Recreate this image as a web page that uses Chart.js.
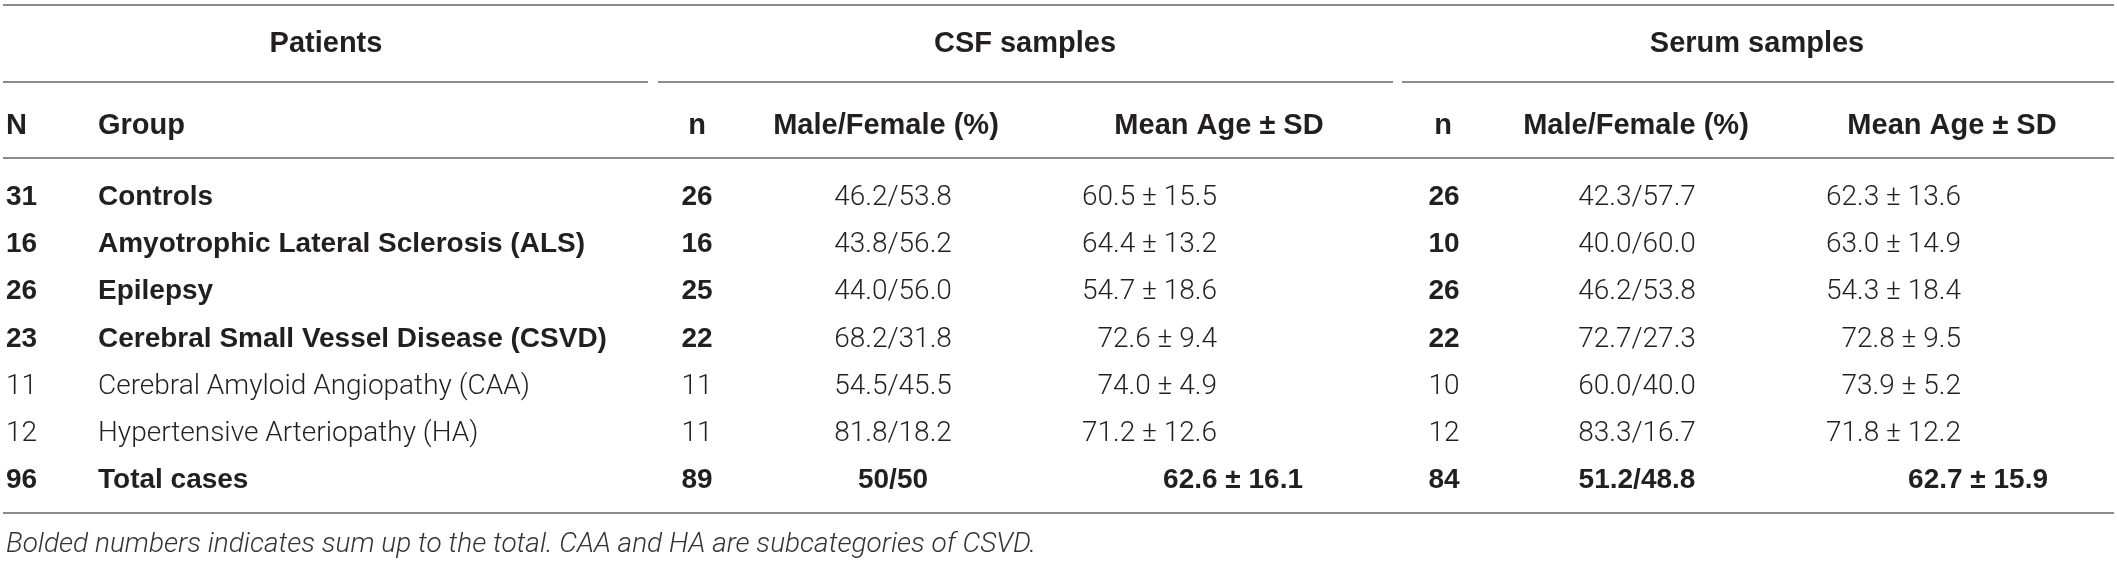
<!DOCTYPE html>
<html>
<head>
<meta charset="utf-8">
<script src="https://cdn.jsdelivr.net/npm/chart.js@4.4.1/dist/chart.umd.min.js"></script>
<style>
  html, body { margin: 0; padding: 0; background: #fff; }
  #wrap { width: 2117px; height: 562px; }
</style>
</head>
<body>
<div id="wrap"><canvas id="tabla" width="2117" height="562"></canvas></div>
<script>
// Datos de la tabla
const groupNames = [
    'Controls',
    'Amyotrophic Lateral Sclerosis (ALS)',
    'Epilepsy',
    'Cerebral Small Vessel Disease (CSVD)',
    'Cerebral Amyloid Angiopathy (CAA)',
    'Hypertensive Arteriopathy (HA)',
    'Total cases'
];
const patientsN = [31, 16, 26, 23, 11, 12, 96];
const summedRows = [true, true, true, true, false, false, true];

const csfN = [26, 16, 25, 22, 11, 11, 89];
const csfMaleFemale = ['46.2/53.8', '43.8/56.2', '44.0/56.0', '68.2/31.8', '54.5/45.5', '81.8/18.2', '50/50'];
const csfAgeMean = [60.5, 64.4, 54.7, 72.6, 74.0, 71.2, 62.6];
const csfAgeSD = [15.5, 13.2, 18.6, 9.4, 4.9, 12.6, 16.1];

const serumN = [26, 10, 26, 22, 10, 12, 84];
const serumMaleFemale = ['42.3/57.7', '40.0/60.0', '46.2/53.8', '72.7/27.3', '60.0/40.0', '83.3/16.7', '51.2/48.8'];
const serumAgeMean = [62.3, 63.0, 54.3, 72.8, 73.9, 71.8, 62.7];
const serumAgeSD = [13.6, 14.9, 18.4, 9.5, 5.2, 12.2, 15.9];

const groupTitles = ['Patients', 'CSF samples', 'Serum samples'];
const columnTitles = ['N', 'Group', 'n', 'Male/Female (%)', 'Mean Age ± SD', 'n', 'Male/Female (%)', 'Mean Age ± SD'];
const footnote = 'Bolded numbers indicates sum up to the total. CAA and HA are subcategories of CSVD.';

// ═══════════════════════════════════════════
// Geometría (unidades de escala = píxeles)
// ═══════════════════════════════════════════
const W = 2117, H = 562;
const ROW0 = 205, ROW_STEP = 47.2;
const TEXT = '#231f20';
const RULE = '#8c8c8c';
const FONT = '"Liberation Sans", Arial, Helvetica, sans-serif';
const LIGHT = '300 28px Roboto, "Liberation Sans", Arial, sans-serif';

const rowY = i => ROW0 + i * ROW_STEP;
const lastRow = groupNames.length - 1;
const fmtAge = (m, s) => m.toFixed(1) + ' ± ' + s.toFixed(1);

// columnas: ancla x, alineación, ancla de la fila total
const columns = [
    { values: patientsN,        x: 6,    align: 'left',   bold: i => summedRows[i] },
    { values: groupNames,       x: 98,   align: 'left',   bold: i => summedRows[i] },
    { values: csfN,             x: 697,  align: 'center', bold: i => summedRows[i] },
    { values: csfMaleFemale,    x: 893,  align: 'center', bold: i => i === lastRow },
    { values: csfAgeMean.map((m, i) => fmtAge(m, csfAgeSD[i])), x: 1217, totalX: 1303, align: 'right', bold: i => i === lastRow },
    { values: serumN,           x: 1444, align: 'center', bold: i => summedRows[i] },
    { values: serumMaleFemale,  x: 1637, align: 'center', bold: i => i === lastRow },
    { values: serumAgeMean.map((m, i) => fmtAge(m, serumAgeSD[i])), x: 1961, totalX: 2048, align: 'right', bold: i => i === lastRow }
];

const headerPos = [
    { x: 6, align: 'left' }, { x: 98, align: 'left' },
    { x: 697, align: 'center' }, { x: 886, align: 'center' }, { x: 1219, align: 'center' },
    { x: 1443, align: 'center' }, { x: 1636, align: 'center' }, { x: 1952, align: 'center' }
];
const titlePos = [326, 1025, 1757];
const spans = [[3, 648], [658, 1393], [1402, 2114]];

const datasets = columns.map(col => ({
    data: col.values.map((v, i) => ({
        x: (i === lastRow && col.totalX) ? col.totalX : col.x,
        y: rowY(i)
    })),
    labels: col.values.map(String),
    align: col.align,
    boldFn: col.bold,
    pointRadius: 0,
    showLine: false
}));

// Plugin que escribe las celdas y las reglas
const tablePlugin = {
    id: 'tablePlugin',
    afterDatasetsDraw(chart) {
        const ctx = chart.ctx;
        const xs = chart.scales.x, ys = chart.scales.y;
        const px = v => xs.getPixelForValue(v);
        const py = v => ys.getPixelForValue(v);

        ctx.save();
        // reglas
        ctx.strokeStyle = RULE;
        ctx.lineWidth = 2;
        const hline = (x0, x1, y) => {
            ctx.beginPath();
            ctx.moveTo(px(x0), py(y));
            ctx.lineTo(px(x1), py(y));
            ctx.stroke();
        };
        hline(3, 2114, 5);
        spans.forEach(s => hline(s[0], s[1], 82));
        hline(3, 2114, 158);
        hline(3, 2114, 513);

        ctx.fillStyle = TEXT;
        ctx.textBaseline = 'alphabetic';

        // títulos de grupo
        ctx.font = 'bold 29px ' + FONT;
        ctx.textAlign = 'center';
        groupTitles.forEach((t, i) => ctx.fillText(t, px(titlePos[i]), py(52)));

        // cabeceras de columna
        columnTitles.forEach((t, i) => {
            ctx.textAlign = headerPos[i].align;
            ctx.fillText(t, px(headerPos[i].x), py(134));
        });

        // celdas
        chart.data.datasets.forEach((ds, di) => {
            const meta = chart.getDatasetMeta(di);
            ctx.textAlign = ds.align;
            meta.data.forEach((el, i) => {
                ctx.font = ds.boldFn(i) ? 'bold 28px ' + FONT : LIGHT;
                ctx.fillText(ds.labels[i], el.x, el.y);
            });
        });

        // nota al pie
        ctx.font = 'italic 300 28px Roboto, "Liberation Sans", Arial, sans-serif';
        ctx.fillStyle = '#333';
        ctx.textAlign = 'left';
        ctx.fillText(footnote, px(6), py(552));
        ctx.restore();
    }
};

document.fonts.load(LIGHT).then(() => {
    new Chart(document.getElementById('tabla'), {
        type: 'scatter',
        data: { datasets: datasets },
        options: {
            responsive: false,
            animation: false,
            devicePixelRatio: 1,
            layout: { padding: 0 },
            plugins: { legend: { display: false }, tooltip: { enabled: false } },
            scales: {
                x: { type: 'linear', min: 0, max: W, display: false },
                y: { type: 'linear', min: 0, max: H, reverse: true, display: false }
            }
        },
        plugins: [tablePlugin]
    });
});
</script>
</body>
</html>
